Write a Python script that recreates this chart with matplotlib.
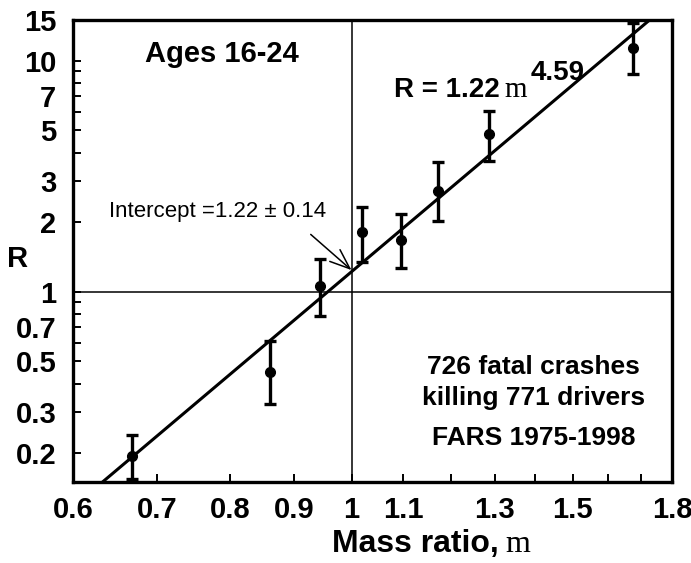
import matplotlib

matplotlib.use("Agg")
import matplotlib.pyplot as plt
import numpy as np
from matplotlib.ticker import FixedLocator, NullFormatter

# data (log-log)
mass_ratio = [0.669, 0.861, 0.944, 1.019, 1.095, 1.172, 1.286, 1.677]
risk = [0.194, 0.450, 1.059, 1.818, 1.67, 2.73, 4.81, 11.39]
risk_low = [0.154, 0.326, 0.784, 1.346, 1.26, 2.02, 3.69, 8.78]
risk_high = [0.240, 0.614, 1.39, 2.33, 2.16, 3.63, 6.08, 14.5]

fit_intercept = 1.22
fit_exponent = 4.59

x_major = [0.6, 0.7, 0.8, 0.9, 1.0, 1.1, 1.3, 1.5, 1.8]
x_major_labels = ["0.6", "0.7", "0.8", "0.9", "1", "1.1", "1.3", "1.5", "1.8"]
x_minor = [1.2, 1.4, 1.6, 1.7]
y_major = [0.2, 0.3, 0.5, 0.7, 1, 2, 3, 5, 7, 10, 15]
y_major_labels = ["0.2", "0.3", "0.5", "0.7", "1", "2", "3", "5", "7", "10", "15"]
y_minor = [0.4, 0.6, 0.8, 0.9, 4, 6, 8, 9]

SANS = "Liberation Sans"
SERIF = "Liberation Serif"
W, H = 691, 563

plt.rcParams["font.family"] = [SANS, "DejaVu Sans"]
plt.rcParams["font.weight"] = "bold"

fig = plt.figure(figsize=(W / 100, H / 100), dpi=100)
ax = fig.add_axes([73 / W, 1 - 482 / H, (672 - 73) / W, (482 - 20) / H])
ax.set_xscale("log")
ax.set_yscale("log")
ax.set_xlim(0.6, 1.8)
ax.set_ylim(0.15, 15)

# reference lines at m = 1 and R = 1
ax.axvline(1.0, color="black", linewidth=1.1, zorder=1)
ax.axhline(1.0, color="black", linewidth=1.1, zorder=1)

# fitted power law
m = np.geomspace(0.6, 1.8, 200)
ax.plot(m, fit_intercept * m ** fit_exponent, color="black", linewidth=2.2, zorder=2)

y = np.array(risk)
yerr = [y - np.array(risk_low), np.array(risk_high) - y]
ax.errorbar(mass_ratio, risk, yerr=yerr, fmt="o", color="black", markersize=7,
            elinewidth=2.4, capsize=4.5, capthick=2.4, zorder=3, clip_on=False)

ax.xaxis.set_major_locator(FixedLocator(x_major))
ax.xaxis.set_minor_locator(FixedLocator(x_minor))
ax.set_xticklabels(x_major_labels)
ax.xaxis.set_minor_formatter(NullFormatter())
ax.yaxis.set_major_locator(FixedLocator(y_major))
ax.yaxis.set_minor_locator(FixedLocator(y_minor))
ax.set_yticklabels(y_major_labels)
ax.yaxis.set_minor_formatter(NullFormatter())

ax.tick_params(axis="both", which="both", direction="in", length=6, width=1.4,
               labelsize=21, top=False, right=False)
ax.tick_params(axis="x", which="major", pad=10)
ax.tick_params(axis="y", which="major", pad=12)
for lab in ax.get_xticklabels() + ax.get_yticklabels():
    lab.set_fontweight("bold")
for sp in ax.spines.values():
    sp.set_linewidth(2.4)

# annotations
ax.text(0.249, 0.909, "Ages 16-24", transform=ax.transAxes, ha="center",
        va="baseline", fontsize=21, fontweight="bold")

ax.text(0.712, 0.833, "R = 1.22", transform=ax.transAxes, ha="right",
        va="baseline", fontsize=20, fontweight="bold")
ax.text(0.720, 0.833, "m", transform=ax.transAxes, ha="left", va="baseline",
        fontsize=21, fontweight="normal", family=SERIF)
ax.text(0.764, 0.870, "4.59", transform=ax.transAxes, ha="left",
        va="baseline", fontsize=20, fontweight="bold")

ax.annotate("Intercept =1.22 \u00b1 0.14", xy=(1.0, 1.24), xytext=(0.241, 0.574),
            textcoords="axes fraction", ha="center", va="baseline",
            fontsize=16, fontweight="normal",
            arrowprops=dict(arrowstyle="->,head_length=0.9,head_width=0.35",
                            color="black", linewidth=1.1,
                            shrinkA=0, shrinkB=0,
                            relpos=(0.93, -0.6)))

for txt, yb in [("726 fatal crashes", 0.234), ("killing 771 drivers", 0.167),
                ("FARS 1975-1998", 0.080)]:
    ax.text(0.769, yb, txt, transform=ax.transAxes, ha="center", va="baseline",
            fontsize=19, fontweight="bold")

# axis labels
fig.text(499 / W, 1 - 552 / H, "Mass ratio,", ha="right", va="baseline",
         fontsize=23, fontweight="bold")
fig.text(505 / W, 1 - 552 / H, "m", ha="left", va="baseline",
         fontsize=23, fontweight="normal", family=SERIF)
fig.text(18 / W, 1 - 259 / H, "R", ha="center", va="center",
         fontsize=21, fontweight="bold")

fig.savefig("out.png", dpi=100)
